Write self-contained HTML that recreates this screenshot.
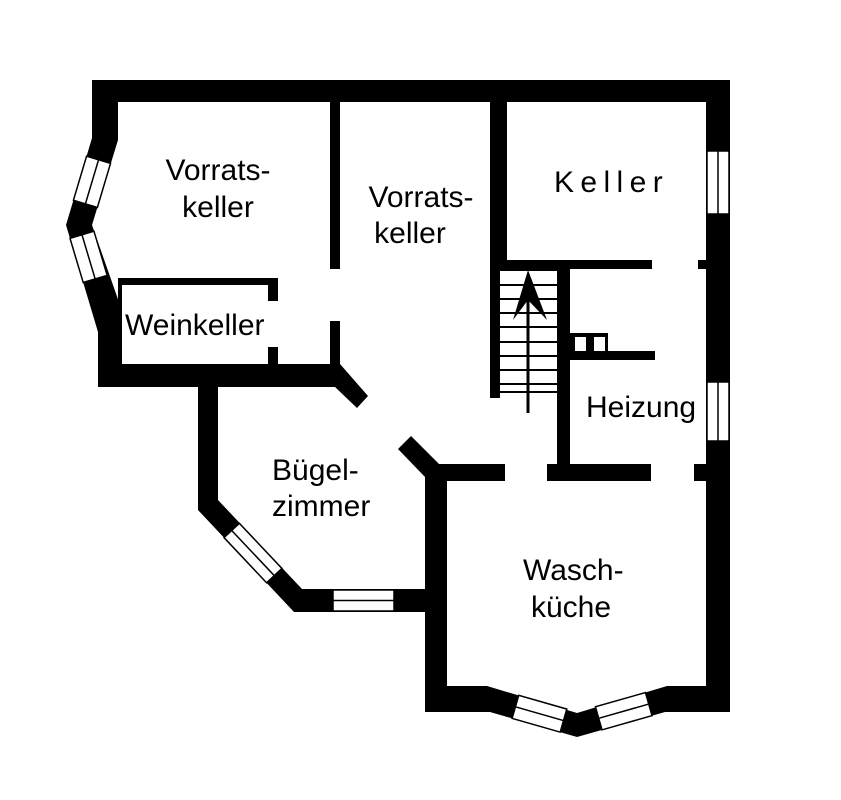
<!DOCTYPE html>
<html><head><meta charset="utf-8"><style>html,body{margin:0;padding:0;background:#fff}svg{display:block}</style></head>
<body>
<svg width="841" height="800" viewBox="0 0 841 800" xmlns="http://www.w3.org/2000/svg">
<rect width="841" height="800" fill="#fff"/>
<g fill="#000">
<rect x="92" y="80" width="638" height="22"/>
<rect x="706" y="80" width="24" height="632"/>
<rect x="92" y="80" width="26" height="60"/>
<polygon points="92,138 118,140 92,225 120,305 120,387 98,387 98,332 66,225"/>
<rect x="98" y="364" width="242" height="23"/>
<polygon points="335,364 340,364 368,396 357,408 335,387"/>
<rect x="330" y="102" width="10" height="167"/>
<rect x="330" y="321" width="10" height="43"/>
<rect x="118" y="278" width="160" height="7"/>
<rect x="118" y="278" width="4" height="90"/>
<rect x="268" y="278" width="10" height="23"/>
<rect x="268" y="347" width="10" height="17"/>
<polygon points="198,387 218,387 218,500 302,589 425,589 425,612 294,612 198,510"/>
<polygon points="411,436 440,465 447,465 447,481 425,481 425,477 398,449"/>
<rect x="425" y="465" width="22" height="247"/>
<rect x="425" y="464" width="80" height="17"/>
<rect x="547" y="464" width="104" height="17"/>
<rect x="694" y="464" width="36" height="17"/>
<rect x="557" y="260" width="13" height="221"/>
<rect x="490" y="102" width="17" height="158"/>
<rect x="490" y="260" width="10" height="138"/>
<rect x="490" y="260" width="162" height="9"/>
<rect x="698" y="260" width="8" height="9"/>
<rect x="570" y="333" width="38" height="19"/>
<rect x="570" y="351" width="85" height="9"/>
<polygon points="425,686 487,686 577,713 667,686 730,686 730,712 665,712 577,737 490,712 425,712"/>
</g>
<g fill="#fff">
<rect x="575" y="337" width="11" height="14"/>
<rect x="594" y="337" width="11" height="14"/>
</g>
<g stroke="#000" stroke-width="2">
<line x1="500" y1="270" x2="557" y2="270"/>
<line x1="500" y1="285" x2="557" y2="285"/>
<line x1="500" y1="299" x2="557" y2="299"/>
<line x1="500" y1="313" x2="557" y2="313"/>
<line x1="500" y1="327" x2="557" y2="327"/>
<line x1="500" y1="342" x2="557" y2="342"/>
<line x1="500" y1="356" x2="557" y2="356"/>
<line x1="500" y1="370" x2="557" y2="370"/>
<line x1="500" y1="384" x2="557" y2="384"/>
<line x1="500" y1="392" x2="557" y2="392"/>
<line x1="528" y1="300" x2="528" y2="413" stroke-width="3"/>
</g>
<polygon points="528,270 547,320 528,300 513,320" fill="#000"/>
<g fill="#fff" stroke="#000" stroke-width="1.5">
<rect x="707" y="151" width="22" height="63"/>
<line x1="718" y1="151" x2="718" y2="214"/>
<rect x="707" y="382" width="22" height="59"/>
<line x1="718" y1="382" x2="718" y2="441"/>
<rect x="333" y="590" width="61" height="21"/>
<line x1="333" y1="600.5" x2="394" y2="600.5"/>
<g transform="translate(198,510) rotate(46.7)"><rect x="38" y="-21" width="62" height="21"/><line x1="38" y1="-10.5" x2="100" y2="-10.5"/></g>
<g transform="translate(92,138) rotate(106.6)"><rect x="19" y="-25" width="46" height="25"/><line x1="19" y1="-12.5" x2="65" y2="-12.5"/></g>
<g transform="translate(66,225) rotate(73.35)"><rect x="14" y="-25" width="46" height="25"/><line x1="14" y1="-12.5" x2="60" y2="-12.5"/></g>
<g transform="translate(490,712) rotate(16)"><rect x="23" y="-24" width="50" height="24"/><line x1="23" y1="-12" x2="73" y2="-12"/></g>
<g transform="translate(577,737) rotate(-15.9)"><rect x="26" y="-24" width="52" height="24"/><line x1="26" y1="-12" x2="78" y2="-12"/></g>
</g>
<g font-family="Liberation Sans, Arial, sans-serif" font-size="30" fill="#000">
<text x="218" y="180" text-anchor="middle">Vorrats-</text>
<text x="218" y="217" text-anchor="middle">keller</text>
<text x="421" y="207" text-anchor="middle">Vorrats-</text>
<text x="410" y="243" text-anchor="middle">keller</text>
<text x="554" y="192" letter-spacing="6.4">Keller</text>
<text x="125" y="335">Weinkeller</text>
<text x="586" y="417">Heizung</text>
<text x="272" y="480">Bügel-</text>
<text x="272" y="516">zimmer</text>
<text x="523" y="580">Wasch-</text>
<text x="531" y="617">küche</text>
</g>
</svg>
</body></html>
